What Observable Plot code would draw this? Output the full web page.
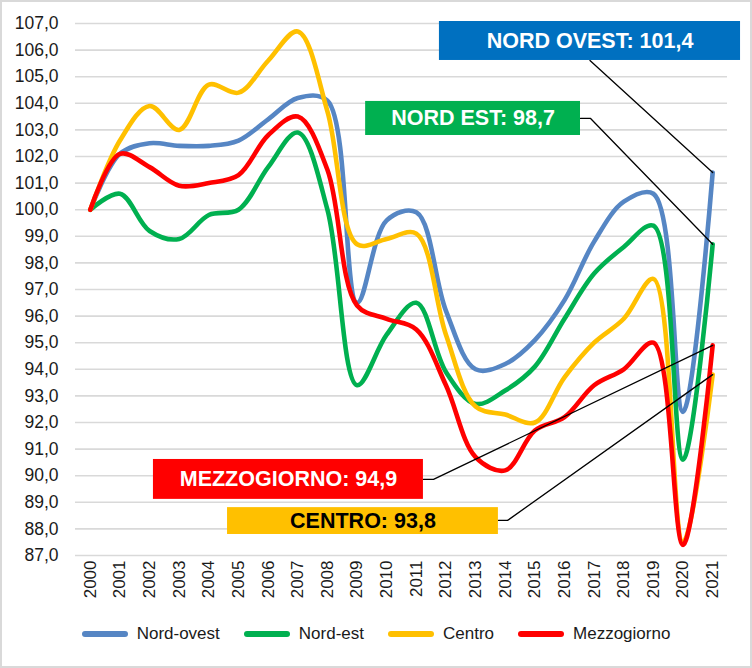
<!DOCTYPE html>
<html>
<head>
<meta charset="utf-8">
<script src="https://cdn.jsdelivr.net/npm/d3@7"></script>
<script src="https://cdn.jsdelivr.net/npm/@observablehq/plot@0.6"></script>
<style>
  html, body { margin: 0; padding: 0; background: #fff; }
  #wrap { position: relative; width: 752px; height: 668px; background: #fff; outline: 2px solid #d9d9d9; outline-offset: -2px; overflow: hidden; }
  #legend { position: absolute; left: 0; top: 624px; width: 752px; display: flex; justify-content: center; align-items: center; font-family: "Liberation Sans", Arial, sans-serif; font-size: 17px; color: #1a1a1a; }
  .item { display: flex; align-items: center; margin: 0 12px; }
  .sw { width: 46px; height: 6px; border-radius: 3px; margin-right: 9px; }
</style>
</head>
<body>
<div id="wrap"><div id="chart"></div><div id="legend"></div></div>
<script>
// ---- data ----
const years = [2000, 2001, 2002, 2003, 2004, 2005, 2006, 2007, 2008, 2009, 2010, 2011, 2012, 2013, 2014, 2015, 2016, 2017, 2018, 2019, 2020, 2021];
const seriesNames = ["Nord-ovest", "Nord-est", "Centro", "Mezzogiorno"];
const nordOvest   = [100.0, 102.1, 102.5, 102.4, 102.4, 102.6, 103.4, 104.2, 104.1, 96.5, 99.6, 99.9, 96.2, 94.0, 94.2, 95.1, 96.6, 98.8, 100.3, 100.6, 92.4, 101.4];
const nordEst     = [100.0, 100.6, 99.2, 98.9, 99.8, 100.0, 101.6, 102.9, 100.0, 93.4, 95.3, 96.5, 93.9, 92.7, 93.2, 94.1, 95.9, 97.6, 98.6, 99.4, 90.6, 98.7];
const centro      = [100.0, 102.6, 103.9, 103.0, 104.7, 104.4, 105.6, 106.7, 103.7, 98.7, 98.9, 99.1, 95.3, 92.6, 92.3, 92.0, 93.7, 95.0, 95.9, 97.4, 87.5, 93.8];
const mezzogiorno = [100.0, 102.1, 101.6, 100.9, 101.0, 101.3, 102.8, 103.5, 101.5, 96.4, 95.9, 95.5, 93.4, 90.7, 90.2, 91.7, 92.2, 93.4, 94.0, 95.0, 87.4, 94.9];
const yTicks = [87, 88, 89, 90, 91, 92, 93, 94, 95, 96, 97, 98, 99, 100, 101, 102, 103, 104, 105, 106, 107];
const labelNames = ["NORD OVEST", "NORD EST", "CENTRO", "MEZZOGIORNO"];

// ---- styles ----
const colors = ["#5686C4", "#00B050", "#FFC000", "#FF0000"];
const boxFill = ["#0070C0", "#00B050", "#FFC000", "#FF0000"];
const boxText = ["#ffffff", "#ffffff", "#000000", "#ffffff"];
// annotation box placement in data units [x1, x2, y1, y2] and leader elbow points
const boxPos = [
  {x1: 2011.78, x2: 2021.94, y1: 105.61, y2: 107.075, lead: [[2016.86, 105.61]]},
  {x1: 2009.29, x2: 2016.54, y1: 102.79, y2: 104.07, lead: [[2016.54, 103.43], [2016.88, 103.43]]},
  {x1: 2004.63, x2: 2013.77, y1: 87.79, y2: 88.80, lead: [[2013.77, 88.32], [2014.08, 88.32]]},
  {x1: 2002.13, x2: 2011.24, y1: 89.11, y2: 90.61, lead: [[2011.24, 89.86], [2011.58, 89.86]]}
];

const allSeries = [nordOvest, nordEst, centro, mezzogiorno];
const fmt = v => v.toFixed(1).replace(".", ",");
const rows = [];
allSeries.forEach((vals, i) => vals.forEach((v, j) => rows.push({series: seriesNames[i], year: years[j], value: v})));

const boxes = boxPos.map((b, i) => ({...b, i, label: `${labelNames[i]}: ${fmt(allSeries[i][allSeries[i].length - 1])}`}));
const leaders = [];
boxes.forEach(b => {
  b.lead.forEach(p => leaders.push({k: b.i, x: p[0], y: p[1]}));
  leaders.push({k: b.i, x: years[years.length - 1], y: allSeries[b.i][allSeries[b.i].length - 1]});
});
const font = "'Liberation Sans', Arial, sans-serif";

const chart = Plot.plot({
  width: 752,
  height: 610,
  marginLeft: 75,
  marginRight: 25,
  marginTop: 23,
  marginBottom: 55,
  style: {fontFamily: font, fontSize: "17px", color: "#1a1a1a", background: "transparent"},
  x: {type: "linear", domain: [1999.5, 2021.5]},
  y: {domain: [87, 107]},
  color: {domain: seriesNames, range: colors},
  marks: [
    Plot.gridY(yTicks, {stroke: "#d9d9d9", strokeOpacity: 1, strokeWidth: 1.6}),
    Plot.axisY(yTicks, {tickSize: 0, tickPadding: 17, tickFormat: fmt, label: null, fontSize: 17.5}),
    Plot.axisX(years, {tickSize: 0, tickPadding: 5, tickRotate: -90, tickFormat: d => String(d), label: null, fontSize: 17}),
    Plot.line(rows, {x: "year", y: "value", z: "series", stroke: "series", strokeWidth: 4.6, curve: "catmull-rom", strokeLinejoin: "round", strokeLinecap: "round"}),
    Plot.line(leaders, {x: "x", y: "y", z: "k", stroke: "#000", strokeWidth: 1.3}),
    Plot.rect(boxes, {x1: "x1", x2: "x2", y1: "y1", y2: "y2", fill: d => boxFill[d.i]}),
    Plot.text(boxes, {x: d => (d.x1 + d.x2) / 2, y: d => (d.y1 + d.y2) / 2, text: "label", fill: d => boxText[d.i], fontSize: 21.5, fontWeight: "bold", fontFamily: font})
  ]
});
document.getElementById("chart").appendChild(chart);

const legend = document.getElementById("legend");
seriesNames.forEach((n, i) => {
  const it = document.createElement("div");
  it.className = "item";
  const sw = document.createElement("span");
  sw.className = "sw";
  sw.style.background = colors[i];
  const t = document.createElement("span");
  t.textContent = n;
  it.appendChild(sw); it.appendChild(t);
  legend.appendChild(it);
});
</script>
</body>
</html>
